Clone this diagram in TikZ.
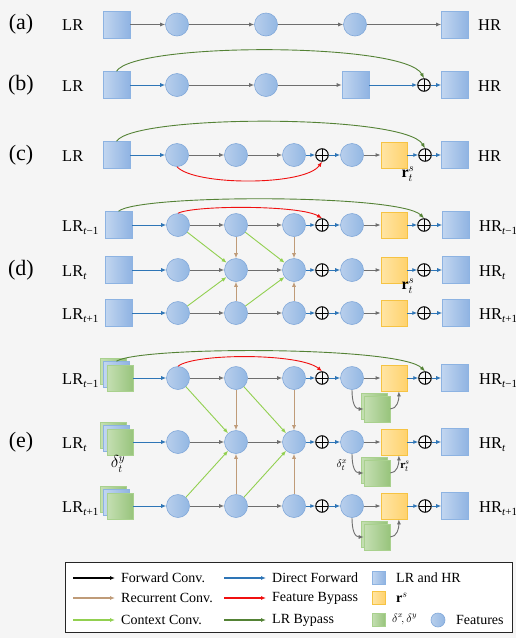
\documentclass[tikz,border=0pt]{standalone}
\usepackage{fontspec}
\setmainfont{Liberation Serif}
\usetikzlibrary{arrows.meta}
\definecolor{bgc}{HTML}{F5F5F5}
\definecolor{sqL}{HTML}{C2D6F0}
\definecolor{sqR}{HTML}{8FB3E2}
\definecolor{sqB}{HTML}{8DB3E2}
\definecolor{ciL}{HTML}{B8CFEC}
\definecolor{ciR}{HTML}{93B7E3}
\definecolor{ciB}{HTML}{82A9DA}
\definecolor{yeL}{HTML}{FFE5A5}
\definecolor{yeR}{HTML}{FFD26D}
\definecolor{yeB}{HTML}{F6C343}
\definecolor{grL}{HTML}{C5DFB3}
\definecolor{grR}{HTML}{98C47C}
\definecolor{grB}{HTML}{A9D18E}
\definecolor{fwdc}{HTML}{6E6E6E}
\definecolor{dirc}{HTML}{2E75B6}
\definecolor{bypc}{HTML}{F01010}
\definecolor{lrbc}{HTML}{548235}
\definecolor{ctxc}{HTML}{92D050}
\definecolor{recc}{HTML}{BF9B78}
\newcommand\lrsub[1]{\raisebox{-0.45ex}{\fontsize{11}{11}\selectfont #1}}
\tikzset{
  sq/.style={rectangle, minimum size=27pt, inner sep=0pt, draw=sqB, line width=0.6pt, left color=sqL, right color=sqR},
  feat/.style={circle, minimum size=23pt, inner sep=0pt, draw=ciB, line width=0.6pt, left color=ciL, right color=ciR},
  ysq/.style={rectangle, minimum size=26pt, inner sep=0pt, draw=yeB, line width=0.8pt, left color=yeL, right color=yeR},
  gsq/.style={rectangle, minimum size=26pt, inner sep=0pt, draw=grB, line width=0.6pt, left color=grL, right color=grR},
  bsq/.style={sq, minimum size=26pt},
  opl/.style={circle, draw=black, line width=1pt, minimum size=12.5pt, inner sep=0pt,
    path picture={\draw[line width=1pt] (path picture bounding box.north) -- (path picture bounding box.south)
      (path picture bounding box.west) -- (path picture bounding box.east);}},
  arr/.style={line width=0.9pt, -{Latex[length=5pt,width=4pt]}},
  fwd/.style={arr, draw=fwdc},
  dir/.style={arr, draw=dirc},
  byp/.style={arr, draw=bypc},
  lrb/.style={arr, draw=lrbc},
  ctx/.style={arr, draw=ctxc},
  rec/.style={arr, draw=recc},
  tag/.style={font=\fontsize{22}{24}\selectfont, inner sep=0pt},
  lr/.style={anchor=base west, font=\fontsize{16.5}{18}\selectfont, inner sep=0pt},
  rlab/.style={font=\fontsize{16}{18}\selectfont, inner sep=0pt},
  slab/.style={font=\fontsize{11}{12}\selectfont, inner sep=0pt},
  legt/.style={anchor=west, font=\fontsize{14}{16}\selectfont, inner sep=0pt},
  legarr/.style={line width=1.1pt, -{Latex[length=5pt,width=4pt]}},
}
\begin{document}
\begin{tikzpicture}[x=1pt,y=-1pt]
\fill[bgc] (0,0) rectangle (516,638);
\useasboundingbox (0,0) rectangle (516,638);

% ---------- (a)
\node[tag] (ta) at (21,24.5) {(a)};
\node[lr] (a-lr) at (62,30.5) {LR};
\node[sq] (a0) at (116.5,24.5) {};
\node[feat] (a1) at (177,24.5) {};
\node[feat] (a2) at (266,24.5) {};
\node[feat] (a3) at (355,24.5) {};
\node[sq] (a4) at (455,24.5) {};
\node[lr] (a-hr) at (478,30.5) {HR};
\draw[fwd] (a0) -- (a1);
\draw[fwd] (a1) -- (a2);
\draw[fwd] (a2) -- (a3);
\draw[fwd] (a3) -- (a4);

% ---------- (b)
\node[tag] (tb) at (21,85) {(b)};
\node[lr] (b-lr) at (62,91) {LR};
\node[sq] (b0) at (116.5,85) {};
\node[feat] (b1) at (177,85) {};
\node[feat] (b2) at (266,85) {};
\node[sq] (b3) at (355.5,85) {};
\node[opl] (bop) at (424,85) {};
\node[sq] (b4) at (455,85) {};
\node[lr] (b-hr) at (478,91) {HR};
\draw[dir] (b0) -- (b1);
\draw[fwd] (b1) -- (b2);
\draw[fwd] (b2) -- (b3);
\draw[dir] (b3) -- (bop);
\draw[dir] (bop) -- (b4);
\draw[lrb] (b0.north) .. controls (135,42) and (405,42) .. (bop.north);

% ---------- (c)
\node[tag] (tc) at (21,155) {(c)};
\node[lr] (c-lr) at (62,161) {LR};
\node[sq] (c0) at (116.5,155) {};
\node[feat] (c1) at (177,155) {};
\node[feat] (c2) at (236,155) {};
\node[feat] (c3) at (294,155) {};
\node[opl] (cop1) at (322,155) {};
\node[feat] (c4) at (352,155) {};
\node[ysq] (cy) at (394,155) {};
\node[opl] (cop2) at (425,155) {};
\node[sq] (c5) at (455,155) {};
\node[lr] (c-hr) at (478,161) {HR};
\node[rlab] (c-r) at (408,174) {$\mathbf{r}_t^{s}$};
\draw[dir] (c0) -- (c1);
\draw[fwd] (c1) -- (c2);
\draw[fwd] (c2) -- (c3);
\draw[dir] (c3) -- (cop1);
\draw[dir] (cop1) -- (c4);
\draw[fwd] (c4) -- (cy);
\draw[dir] (cy) -- (cop2);
\draw[dir] (cop2) -- (c5);
\draw[lrb] (c0.north) .. controls (135,114) and (405,114) .. (cop2.north);
\draw[byp] (c1.south) .. controls (195,186) and (305,186) .. (cop1.south);

% ---------- (d)
\node[tag] (td) at (21,270) {(d)};
\foreach \i/\y/\s in {1/225/{\textit{t}−1}, 2/270/{\textit{t}}, 3/313/{\textit{t}+1}} {
  \node[lr] (d\i-lr) at (62,\y+6) {LR\lrsub{\s}};
  \node[sq] (d\i-sq) at (118.5,\y) {};
  \node[feat] (d\i-c1) at (178,\y) {};
  \node[feat] (d\i-c2) at (236,\y) {};
  \node[feat] (d\i-c3) at (294,\y) {};
  \node[opl] (d\i-op1) at (322,\y) {};
  \node[feat] (d\i-c4) at (352,\y) {};
  \node[ysq] (d\i-y) at (394,\y) {};
  \node[opl] (d\i-op2) at (424,\y) {};
  \node[sq] (d\i-hq) at (456,\y) {};
  \node[lr] (d\i-hr) at (479,\y+6) {HR\lrsub{\s}};
  \draw[dir] (d\i-sq) -- (d\i-c1);
  \draw[fwd] (d\i-c1) -- (d\i-c2);
  \draw[fwd] (d\i-c2) -- (d\i-c3);
  \draw[dir] (d\i-c3) -- (d\i-op1);
  \draw[dir] (d\i-op1) -- (d\i-c4);
  \draw[fwd] (d\i-c4) -- (d\i-y);
  \draw[dir] (d\i-y) -- (d\i-op2);
  \draw[dir] (d\i-op2) -- (d\i-hq);
}
\node[rlab] (d-r) at (408,286) {$\mathbf{r}_t^{s}$};
\draw[ctx] (d1-c1) -- (d2-c2);
\draw[ctx] (d1-c2) -- (d2-c3);
\draw[ctx] (d3-c1) -- (d2-c2);
\draw[ctx] (d3-c2) -- (d2-c3);
\draw[rec] (d1-c2) -- (d2-c2);
\draw[rec] (d3-c2) -- (d2-c2);
\draw[rec] (d1-c3) -- (d2-c3);
\draw[rec] (d3-c3) -- (d2-c3);
\draw[lrb] (d1-sq.north) .. controls (140,194) and (400,194) .. (d1-op2.north);
\draw[byp] (d1-c1.north) .. controls (195,205) and (300,205) .. (d1-op1.north);

% ---------- (e)
\node[tag] (te) at (21,442) {(e)};
\foreach \i/\y/\s in {1/378/{\textit{t}−1}, 2/442/{\textit{t}}, 3/506/{\textit{t}+1}} {
  \node[lr] (e\i-lr) at (62,\y+6) {LR\lrsub{\s}};
  \node[gsq] (e\i-sb) at (113,\y-7) {};
  \node[bsq] (e\i-sm) at (116.5,\y-3.5) {};
  \node[gsq] (e\i-sf) at (120,\y) {};
  \node[feat] (e\i-c1) at (178,\y) {};
  \node[feat] (e\i-c2) at (236,\y) {};
  \node[feat] (e\i-c3) at (294,\y) {};
  \node[opl] (e\i-op1) at (322,\y) {};
  \node[feat] (e\i-c4) at (352,\y) {};
  \node[ysq] (e\i-y) at (394,\y) {};
  \node[opl] (e\i-op2) at (425,\y) {};
  \node[sq] (e\i-hq) at (455,\y) {};
  \node[lr] (e\i-hr) at (479,\y+6) {HR\lrsub{\s}};
  \node[gsq] (e\i-gb) at (374,\y+28) {};
  \node[gsq] (e\i-gf) at (377,\y+31) {};
  \draw[dir] (e\i-sf) -- (e\i-c1);
  \draw[fwd] (e\i-c1) -- (e\i-c2);
  \draw[fwd] (e\i-c2) -- (e\i-c3);
  \draw[dir] (e\i-c3) -- (e\i-op1);
  \draw[dir] (e\i-op1) -- (e\i-c4);
  \draw[fwd] (e\i-c4) -- (e\i-y);
  \draw[dir] (e\i-y) -- (e\i-op2);
  \draw[dir] (e\i-op2) -- (e\i-hq);
  \draw[fwd] (e\i-c4.south) .. controls (352,\y+25) and (355,\y+31) .. (e\i-gf.west);
  \draw[fwd] (e\i-gf.east) .. controls (397,\y+31) and (399,\y+22) .. (e\i-y.-70);
}
\node[rlab] (e-dy) at (118,464) {$\delta_t^{y}$};
\node[slab] (e-dx) at (342,465) {$\delta_t^{x}$};
\node[slab] (e-r) at (405,466) {$\mathbf{r}_t^{s}$};
\draw[ctx] (e1-c1) -- (e2-c2);
\draw[ctx] (e1-c2) -- (e2-c3);
\draw[ctx] (e3-c1) -- (e2-c2);
\draw[ctx] (e3-c2) -- (e2-c3);
\draw[rec] (e1-c2) -- (e2-c2);
\draw[rec] (e3-c2) -- (e2-c2);
\draw[rec] (e1-c3) -- (e2-c3);
\draw[rec] (e3-c3) -- (e2-c3);
\draw[lrb] (e1-sm.north) .. controls (140,346) and (400,346) .. (e1-op2.north);
\draw[byp] (e1-c1.north) .. controls (195,353) and (300,353) .. (e1-op1.north);

% ---------- legend
\node[draw=black!85, fill=white, line width=0.9pt, minimum width=447pt, minimum height=70pt, inner sep=0pt] (leg) at (288.5,597) {};
\coordinate (l1a) at (73,578); \coordinate (l1b) at (115,578);
\coordinate (l2a) at (73,598); \coordinate (l2b) at (115,598);
\coordinate (l3a) at (73,620); \coordinate (l3b) at (115,620);
\coordinate (l4a) at (224,578); \coordinate (l4b) at (266,578);
\coordinate (l5a) at (224,598); \coordinate (l5b) at (266,598);
\coordinate (l6a) at (224,620); \coordinate (l6b) at (266,620);
\draw[legarr, draw=black] (l1a) -- (l1b);
\draw[legarr, draw=recc] (l2a) -- (l2b);
\draw[legarr, draw=ctxc] (l3a) -- (l3b);
\draw[legarr, draw=dirc] (l4a) -- (l4b);
\draw[legarr, draw=bypc] (l5a) -- (l5b);
\draw[legarr, draw=lrbc] (l6a) -- (l6b);
\node[legt] (lt1) at (121,578) {Forward Conv.};
\node[legt] (lt2) at (121,598) {Recurrent Conv.};
\node[legt] (lt3) at (121,620) {Context Conv.};
\node[legt] (lt4) at (272,578) {Direct Forward};
\node[legt] (lt5) at (272,598) {Feature Bypass};
\node[legt] (lt6) at (272,620) {LR Bypass};
\node[sq, minimum size=13pt] (lq1) at (378.5,578) {};
\node[ysq, minimum size=13pt] (lq2) at (378.5,598) {};
\node[gsq, minimum size=13pt] (lq3) at (378.5,620) {};
\node[legt] (lt7) at (396,578) {LR and HR};
\node[legt] (lt8) at (396,598) {$\mathbf{r}^{s}$};
\node[anchor=west, font=\fontsize{12}{14}\selectfont, inner sep=0pt] (lt9) at (392,619) {$\delta^{x}\!,\delta^{y}$};
\node[feat, minimum size=14pt] (lc) at (438,620) {};
\node[legt] (lt10) at (456,620) {Features};
\end{tikzpicture}
\end{document}
